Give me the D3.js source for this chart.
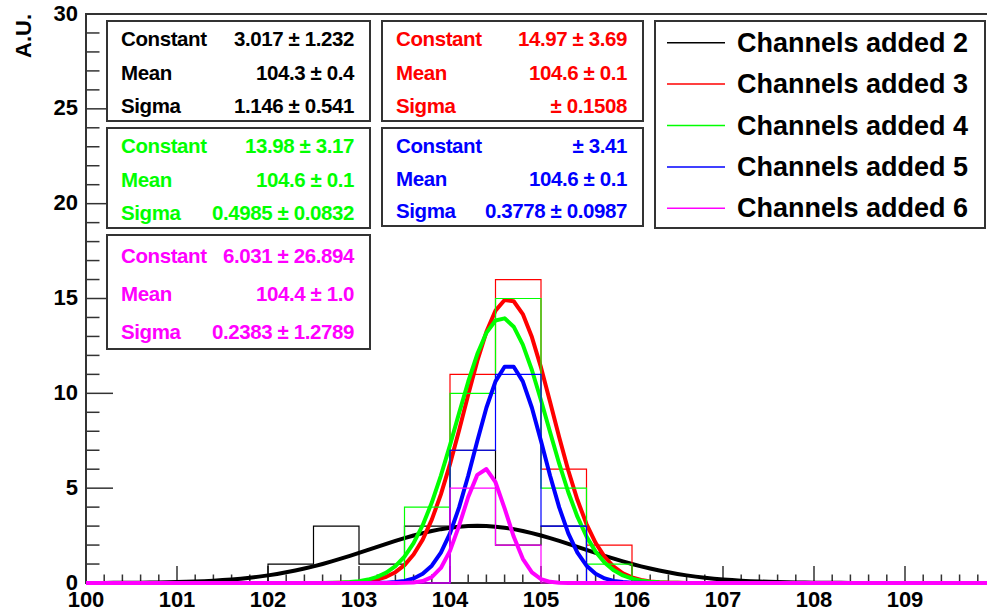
<!DOCTYPE html>
<html>
<head>
<meta charset="utf-8">
<script src="https://cdn.jsdelivr.net/npm/d3@7"></script>
<style>
html,body{margin:0;padding:0;background:#fff;}
svg{display:block;font-family:"Liberation Sans",Arial,sans-serif;}
</style>
</head>
<body>
<svg id="c" width="987" height="611"></svg>
<script>
// ---- data ----
const binStart = 100, binWidth = 0.5, nBins = 20;
const seriesNames = ["Channels added 2","Channels added 3","Channels added 4","Channels added 5","Channels added 6"];
const seriesColors = ["#000000","#ff0000","#00ff00","#0000ff","#ff00ff"];
// bin contents, bins of 0.5 from 100 to 110
const ch2 = [0,0,0,0, 1,3,1,3, 7,2,3,0, 0,0,0,0, 0,0,0,0];
const ch3 = [0,0,0,0, 0,0,0,0, 11,16,6,2, 0,0,0,0, 0,0,0,0];
const ch4 = [0,0,0,0, 0,0,0,4, 10,15,5,1, 0,0,0,0, 0,0,0,0];
const ch5 = [0,0,0,0, 0,0,0,0, 7,11,3,0, 0,0,0,0, 0,0,0,0];
const ch6 = [0,0,0,0, 0,0,0,0, 5,2,0,0, 0,0,0,0, 0,0,0,0];
// gaussian fit parameters (constant, mean, sigma)
const fitConst = [3.017, 14.97, 13.98, 11.5, 6.031];
const fitMean  = [104.3, 104.64, 104.57, 104.65, 104.38];
const fitSigma = [1.146, 0.485, 0.4985, 0.3778, 0.2383];
// stats box texts
const statLabels = ["Constant","Mean","Sigma"];
const stat2 = ["3.017 \u00b1 1.232","104.3 \u00b1 0.4","1.146 \u00b1 0.541"];
const stat3 = ["14.97 \u00b1 3.69","104.6 \u00b1 0.1","\u00b1 0.1508"];
const stat4 = ["13.98 \u00b1 3.17","104.6 \u00b1 0.1","0.4985 \u00b1 0.0832"];
const stat5 = ["\u00b1 3.41","104.6 \u00b1 0.1","0.3778 \u00b1 0.0987"];
const stat6 = ["6.031 \u00b1 26.894","104.4 \u00b1 1.0","0.2383 \u00b1 1.2789"];
const xTickLabels = [100,101,102,103,104,105,106,107,108,109];
const yTickLabels = [0,5,10,15,20,25,30];
const yTitle = "A.U.";

// ---- drawing ----
const svg = d3.select("#c");
const x = d3.scaleLinear().domain([100,110]).range([86,996]);
const y = d3.scaleLinear().domain([0,30]).range([583,14]);
const frameCol = "#333";

// frame
svg.append("rect").attr("x",x(100)).attr("y",y(30)).attr("width",x(110)-x(100)).attr("height",y(0)-y(30))
  .attr("fill","none").attr("stroke",frameCol).attr("stroke-width",2);

// x axis ticks
const xAxisG = svg.append("g");
d3.range(100,110.001,0.2).forEach(v=>{
  const major = Math.abs(v-Math.round(v))<1e-6;
  xAxisG.append("line").attr("x1",x(v)).attr("x2",x(v)).attr("y1",y(0)).attr("y2",y(0)-(major?17:8.5))
    .attr("stroke",frameCol).attr("stroke-width",1.5);
});
xAxisG.selectAll("text.xl").data(xTickLabels).join("text").attr("class","xl")
  .attr("x",d=>x(d)).attr("y",599).attr("text-anchor","middle").attr("dominant-baseline","central")
  .attr("font-size",22).attr("font-weight","bold").text(d=>d);

// y axis ticks
const yAxisG = svg.append("g");
d3.range(0,30.001,1).forEach(v=>{
  const major = v%5===0;
  yAxisG.append("line").attr("x1",x(100)).attr("x2",x(100)+(major?27:13.5)).attr("y1",y(v)).attr("y2",y(v))
    .attr("stroke",frameCol).attr("stroke-width",1.5);
});
yAxisG.selectAll("text.yl").data(yTickLabels).join("text").attr("class","yl")
  .attr("x",78).attr("y",d=>y(d)-1).attr("text-anchor","end").attr("dominant-baseline","central")
  .attr("font-size",22).attr("font-weight","bold").text(d=>d);
svg.append("text").attr("transform","translate(31,14) rotate(-90)").attr("text-anchor","end")
  .attr("font-size",22).attr("font-weight","bold").text(yTitle);

// histograms + fits
const hists = [ch2,ch3,ch4,ch5,ch6];
const line = d3.line().x(d=>x(d[0])).y(d=>y(d[1]));
const plotG = svg.append("g");
hists.forEach((h,k)=>{
  const pts = [[binStart,0]];
  h.forEach((v,i)=>{ pts.push([binStart+i*binWidth,v]); pts.push([binStart+(i+1)*binWidth,v]); });
  pts.push([binStart+nBins*binWidth,0]);
  plotG.append("path").attr("d",line(pts)).attr("fill","none").attr("stroke",seriesColors[k])
    .attr("stroke-width",1.2);
  const fx = d3.range(0,101).map(i=>100+i*0.1);
  const fpts = fx.map(v=>[v, fitConst[k]*Math.exp(-0.5*Math.pow((v-fitMean[k])/fitSigma[k],2))]);
  plotG.append("path").attr("d",line(fpts)).attr("fill","none").attr("stroke",seriesColors[k])
    .attr("stroke-width",4).attr("stroke-linejoin","round");
});

// stats boxes
function statBox(x0,y0,w,h,vals,col){
  const g = svg.append("g");
  g.append("rect").attr("x",x0).attr("y",y0).attr("width",w).attr("height",h)
    .attr("fill","#fff").attr("stroke",frameCol).attr("stroke-width",2);
  statLabels.forEach((lab,i)=>{
    const cy = y0 + (i+0.5)*h/3 + 1;
    g.append("text").attr("x",x0+14).attr("y",cy).attr("dominant-baseline","central")
      .attr("font-size",20.5).attr("letter-spacing",-0.4).attr("font-weight","bold").attr("fill",col).text(lab);
    g.append("text").attr("x",x0+w-16).attr("y",cy).attr("dominant-baseline","central").attr("text-anchor","end")
      .attr("font-size",20.5).attr("letter-spacing",-0.4).attr("font-weight","bold").attr("fill",col).text(vals[i]);
  });
}
statBox(107,21,263,100,stat2,seriesColors[0]);
statBox(382,21,261,100,stat3,seriesColors[1]);
statBox(107,128,263,100,stat4,seriesColors[2]);
statBox(382,128,261,98,stat5,seriesColors[3]);
statBox(107,235,263,114,stat6,seriesColors[4]);

// legend
const lg = svg.append("g");
lg.append("rect").attr("x",655).attr("y",21).attr("width",330).attr("height",207)
  .attr("fill","#fff").attr("stroke",frameCol).attr("stroke-width",2);
seriesNames.forEach((n,i)=>{
  const cy = 21 + (i+0.5)*207/5 + 1;
  lg.append("line").attr("x1",667).attr("x2",725).attr("y1",cy).attr("y2",cy)
    .attr("stroke",seriesColors[i]).attr("stroke-width",1.5);
  lg.append("text").attr("x",737).attr("y",cy).attr("dominant-baseline","central")
    .attr("font-size",27).attr("font-weight","bold").text(n);
});
</script>
</body>
</html>
